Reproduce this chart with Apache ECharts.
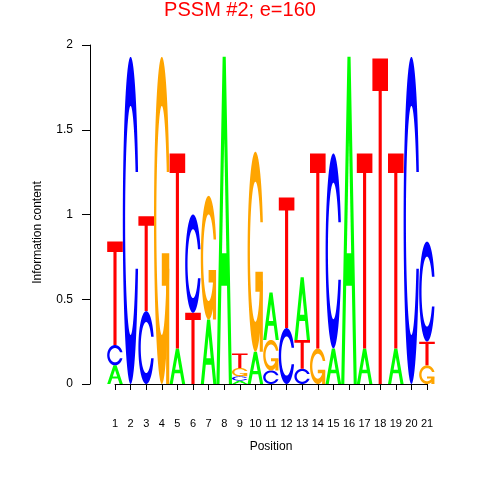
<!DOCTYPE html>
<html>
<head>
<meta charset="utf-8">
<script src="https://cdn.jsdelivr.net/npm/echarts@6/dist/echarts.min.js"></script>
<style>html,body{margin:0;padding:0;background:#fff}#c{width:480px;height:480px}</style>
</head>
<body>
<div id="c"></div>
<script>
// ---- data ----
const positions = [1,2,3,4,5,6,7,8,9,10,11,12,13,14,15,16,17,18,19,20,21];
const letters = ['A','C','G','T'];
const heightA = [0.11,0,0,0,0.21,0,0.38,1.93,0.02,0.19,0.28,0,0.37,0,0.21,1.93,0.21,0,0.21,0,0];
const heightC = [0.12,1.93,0.43,0,0,0.58,0,0,0.025,0,0.08,0.33,0.09,0,1.15,0,0,0,0,1.93,0.59];
const heightG = [0,0,0,1.93,0,0,0.73,0,0.05,1.18,0.18,0,0,0.21,0,0,0,0,0,0,0.11];
const heightT = [0.61,0,0.56,0,1.15,0.42,0,0,0.085,0,0,0.77,0.17,1.15,0,0,1.15,1.92,1.15,0,0.14];
const yTicks = [0,0.5,1,1.5,2];
const titleText = 'PSSM #2; e=160';
const colors = {A:'#00FF00', C:'#0000FF', G:'#FFA500', T:'#FF0000'};

// ---- stacked letter items ----
const heights = {A:heightA, C:heightC, G:heightG, T:heightT};
const items = [];
positions.forEach((p, i) => {
  const col = letters.map((L, k) => ({k, h: heights[L][i]})).filter(d => d.h > 0);
  col.sort((a, b) => a.h - b.h);
  let base = 0;
  col.forEach(d => { items.push([p, base, base + d.h, d.k]); base += d.h; });
});

// ---- letter shapes in unit box (seqLogo style) ----
function cShape() {
  const n = 100, a1 = [], a2 = [];
  for (let i = 0; i < n; i++) a1.push(0.3 + Math.PI/2 + (Math.PI - 0.3 - Math.PI/2) * i/(n-1));
  for (let i = 0; i < n; i++) a2.push(Math.PI + (0.5*Math.PI) * i/(n-1));
  const xl = [], yl = [];
  a1.concat(a2).forEach(a => { xl.push(0.5 + 0.5*Math.sin(a)); yl.push(0.5 + 0.5*Math.cos(a)); });
  const maxY1 = 0.5 + 0.5*Math.cos(a1[0]);
  let xi = [], yi = [];
  a1.forEach(a => { const y = 0.5 + 0.35*Math.cos(a); if (y <= maxY1) { xi.push(0.5 + 0.35*Math.sin(a)); yi.push(y); } });
  yi[0] = maxY1;
  a2.forEach(a => { xi.push(0.5 + 0.35*Math.sin(a)); yi.push(0.5 + 0.35*Math.cos(a)); });
  const X = xl.concat(xl.slice().reverse());
  const Y = yl.concat(yl.slice().reverse().map(v => 1 - v));
  const X1 = xi.concat(xi.slice().reverse());
  const Y1 = yi.concat(yi.slice().reverse().map(v => 1 - v));
  const pts = [];
  for (let i = 0; i < X.length; i++) pts.push([X[i], Y[i]]);
  for (let i = X1.length - 1; i >= 0; i--) pts.push([X1[i], Y1[i]]);
  return {pts, r1: 0.5 + 0.5*Math.sin(a1[0])};
}
const C0 = cShape();
const shapes = {
  A: [{pts:[[0,0],[0.4,1],[0.6,1],[1,0],[0.8,0],[0.68,0.3],[0.32,0.3],[0.2,0]]},
      {pts:[[0.36,0.4],[0.5,0.75],[0.64,0.4]], white:true}],
  C: [{pts:C0.pts}],
  G: [{pts:C0.pts},
      {pts:[[C0.r1,0.4],[0.5,0.4],[0.5,0.3],[C0.r1-0.2,0.3],[C0.r1-0.2,0],[C0.r1,0]]}],
  T: [{pts:[[0,1],[1,1],[1,0.9],[0.6,0.9],[0.6,0],[0.4,0],[0.4,0.9],[0,0.9]]}]
};

function renderItem(params, api) {
  const pos = api.value(0), y0 = api.value(1), y1 = api.value(2), L = letters[api.value(3)];
  const p0 = api.coord([pos - 0.5, y0]);
  const p1 = api.coord([pos + 0.5, y1]);
  const w = p1[0] - p0[0], h = p0[1] - p1[1];
  const children = shapes[L].map(s => ({
    type: 'polygon',
    shape: {points: s.pts.map(q => [p0[0] + q[0]*w, p0[1] - q[1]*h])},
    style: {fill: s.white ? '#FFFFFF' : colors[L], stroke: null}
  }));
  return {type: 'group', children};
}

const font = "'Liberation Sans', Arial, Helvetica, sans-serif";
const chart = echarts.init(document.getElementById('c'), null, {renderer: 'canvas'});
chart.setOption({
  animation: false,
  backgroundColor: '#FFFFFF',
  title: {text: titleText, left: 'center', top: 0, padding: 0,
    textStyle: {color: '#FF0000', fontSize: 20, fontWeight: 'normal', fontFamily: font}},
  grid: {left: 115, right: 53, top: 45, bottom: 96},
  xAxis: {
    type: 'value', min: 1, max: 21, interval: 1, offset: 18,
    name: 'Position', nameLocation: 'middle', nameGap: 39,
    nameTextStyle: {color: '#000', fontSize: 12, fontFamily: font},
    axisLine: {show: true, lineStyle: {color: '#000', width: 1}},
    axisTick: {show: true, length: 6, lineStyle: {color: '#000'}},
    axisLabel: {color: '#000', fontSize: 11, fontFamily: font, margin: 16},
    splitLine: {show: false}
  },
  yAxis: {
    type: 'value', min: yTicks[0], max: yTicks[yTicks.length-1], interval: 0.5, offset: 25,
    name: 'Information content', nameLocation: 'middle', nameGap: 46,
    nameTextStyle: {color: '#000', fontSize: 12, fontFamily: font, padding: [0, 36, 0, 0]},
    axisLine: {show: true, lineStyle: {color: '#000', width: 1}},
    axisTick: {show: true, length: 8, lineStyle: {color: '#000'}},
    axisLabel: {color: '#000', fontSize: 12, fontFamily: font, margin: 17},
    splitLine: {show: false}
  },
  series: [{
    type: 'custom', renderItem, clip: false,
    encode: {x: 0, y: [1, 2]},
    data: items
  }]
});
</script>
</body>
</html>
